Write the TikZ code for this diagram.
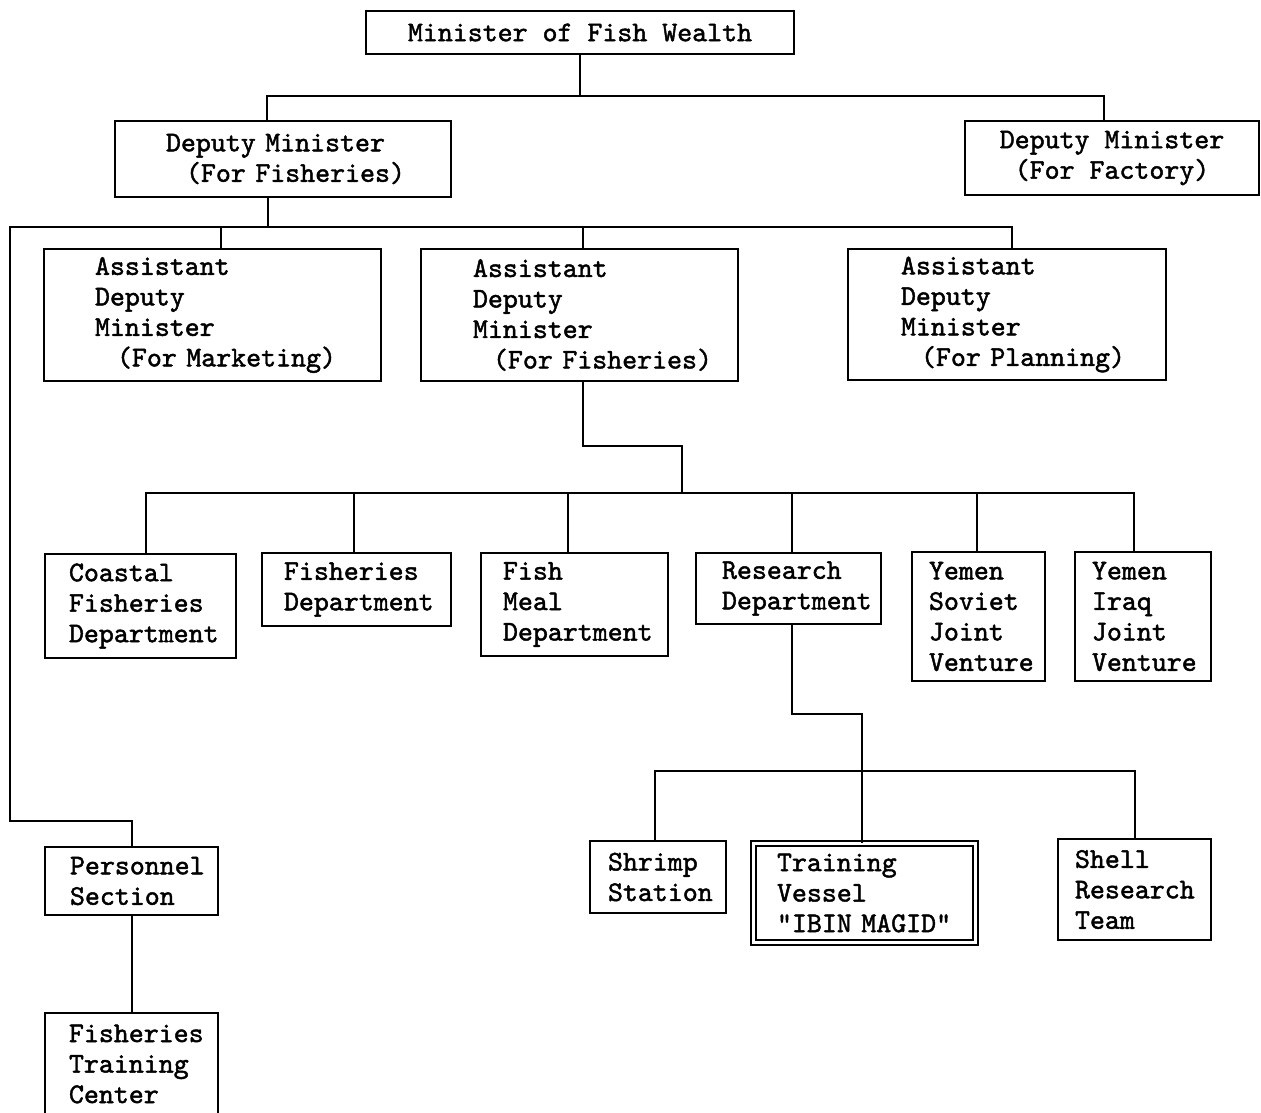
\documentclass[tikz,border=0pt]{standalone}
\usepackage{fontspec}
\newfontfamily\tw{lmmono10-regular.otf}[FakeBold=1.6]
\newcommand\bxfont{\tw\fontsize{28.5}{30.5}\selectfont}
\hyphenpenalty=10000
\exhyphenpenalty=10000
\hfuzz=100pt
\begin{document}
\begin{tikzpicture}[x=1pt,y=-1pt,
  box/.style={draw, line width=2pt, inner sep=0pt, align=left, font=\bxfont},
  lbox/.style n args={4}{box, minimum width=#1pt, minimum height=#2pt, inner xsep=#3pt, text width=#4pt},
  conn/.style={line width=2pt}]
\useasboundingbox (0,0) rectangle (1261,1112);
\fill[white] (0,0) rectangle (1261,1112);

\node[box, align=center, minimum width=428pt, minimum height=43pt] (minister) at (580,32.5) {Minister of Fish Wealth};
\node[lbox={336}{76}{51}{234}] (depfish) at (283,159) {\mbox{Deputy Minister}\\\mbox{\hspace*{20pt}(For Fisheries)}};
\node[box, align=center, minimum width=294pt, minimum height=74pt] (depfac) at (1112,158) {Deputy Minister\\(For Factory)};

\node[lbox={337}{132}{51}{235}] (admm) at (212.5,315) {Assistant\\Deputy\\Minister\\\mbox{\hspace*{22pt}(For Marketing)}};
\node[lbox={317}{132}{52}{213}] (admf) at (579.5,315) {Assistant\\Deputy\\Minister\\\mbox{\hspace*{20pt}(For Fisheries)}};
\node[lbox={318}{131}{53}{212}] (admp) at (1007,314.5) {Assistant\\Deputy\\Minister\\\mbox{\hspace*{20pt}(For Planning)}};

\node[lbox={191}{104}{24}{143}] (coastal) at (140.5,606) {Coastal\\Fisheries\\\mbox{Department}};
\node[lbox={189}{73}{22}{145}] (fishdept) at (356.5,589.5) {Fisheries\\\mbox{Department}};
\node[lbox={187}{103}{22}{143}] (fishmeal) at (574.5,604.5) {Fish\\Meal\\\mbox{Department}};
\node[lbox={185}{71}{26}{133}] (research) at (788.5,588.5) {Research\\\mbox{Department}};
\node[lbox={133}{129}{17}{99}] (ysov) at (978.5,616.5) {Yemen\\Soviet\\Joint\\\mbox{Venture}};
\node[lbox={136}{129}{17}{102}] (yiraq) at (1143,616.5) {Yemen\\Iraq\\Joint\\\mbox{Venture}};

\node[lbox={136}{72}{18}{100}] (shrimp) at (658,877) {Shrimp\\\mbox{Station}};
\node[lbox={222}{99}{23.5}{175}, double, line width=1.8pt, double distance=3.5pt] (vessel) at (864.5,893) {Training\\Vessel\\\mbox{"IBIN MAGID"}};
\node[lbox={153}{101}{17}{119}] (shell) at (1134.5,889.5) {Shell\\\mbox{Research}\\Team};

\node[lbox={173}{68}{25}{123}] (personnel) at (131.5,881) {\mbox{Personnel}\\Section};
\node[lbox={173}{102}{24}{125}] (ftc) at (131.5,1064) {\mbox{Fisheries}\\Training\\Center};

\coordinate (b1) at (0,96);
\coordinate (b2) at (10,227);
\coordinate (b3) at (682,494);

% level 1
\draw[conn] (minister.south) -- (minister.south |- b1);
\draw[conn] ([xshift=-16pt]depfish.north) -- ([xshift=-16pt]depfish.north |- b1) -| ([xshift=-8pt]depfac.north);

% level 2
\draw[conn] ([xshift=-15pt]depfish.south) -- ([xshift=-15pt]depfish.south |- b2);
\draw[conn] (personnel.north) -- ++(0,-25) -| (b2) -| ([xshift=5pt]admp.north);
\draw[conn] ([xshift=8.5pt]admm.north) -- ++(0,-22);
\draw[conn] ([xshift=3.5pt]admf.north) -- ++(0,-22);

% level 3
\draw[conn] ([xshift=3.5pt]admf.south) -- ++(0,64) -| (b3);
\draw[conn] ([xshift=5.5pt]coastal.north) -- ++(0,-60) -| ([xshift=-9pt]yiraq.north);
\draw[conn] ([xshift=-2.5pt]fishdept.north) -- ++(0,-59);
\draw[conn] ([xshift=-6.5pt]fishmeal.north) -- ++(0,-59);
\draw[conn] ([xshift=3.5pt]research.north) -- ++(0,-59);
\draw[conn] ([xshift=-1.5pt]ysov.north) -- ++(0,-58);

% level 4
\draw[conn] ([xshift=3.5pt]research.south) -- ++(0,89) -| ([xshift=-2.5pt]vessel.north);
\draw[conn] ([xshift=-3pt]shrimp.north) -- ++(0,-69) -| ([xshift=0.5pt]shell.north);

% personnel
\draw[conn] (personnel.south) -- (ftc.north);
\end{tikzpicture}
\end{document}
